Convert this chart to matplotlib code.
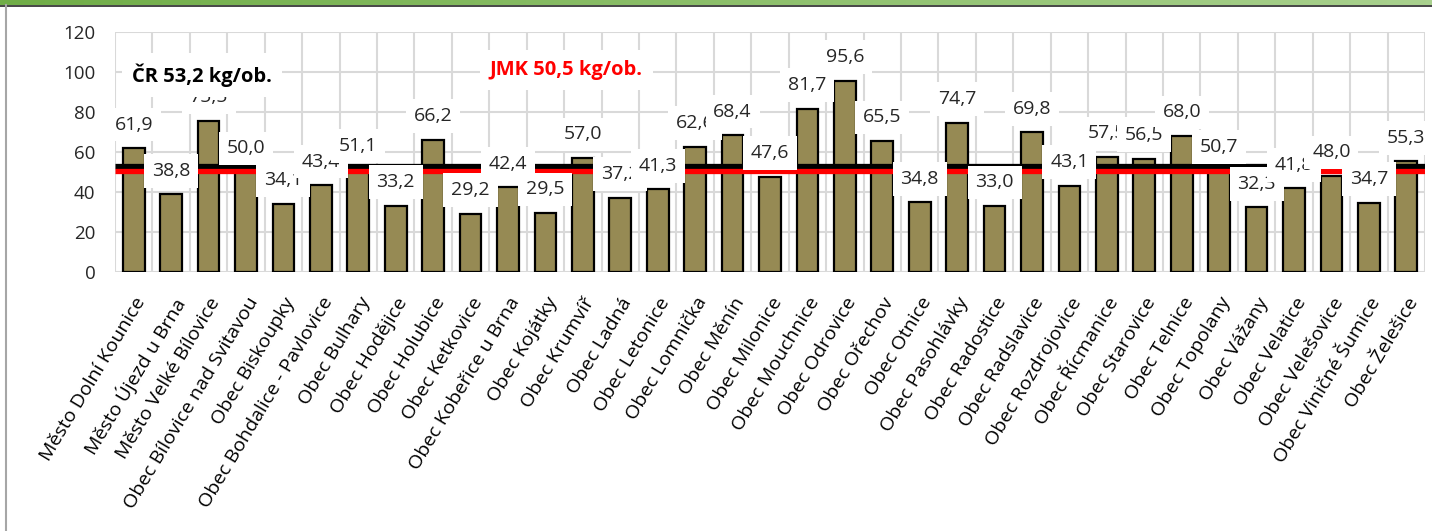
import numpy as np
import matplotlib.pyplot as plt
from matplotlib.colors import LinearSegmentedColormap

plt.rcParams['font.family'] = ['Open Sans', 'DejaVu Sans']

obce = ['Město Dolní Kounice', 'Město Újezd u Brna', 'Město Velké Bílovice',
        'Obec Bílovice nad Svitavou', 'Obec Biskoupky', 'Obec Bohdalice - Pavlovice',
        'Obec Bulhary', 'Obec Hodějice', 'Obec Holubice', 'Obec Ketkovice',
        'Obec Kobeřice u Brna', 'Obec Kojátky', 'Obec Krumvíř', 'Obec Ladná',
        'Obec Letonice', 'Obec Lomnička', 'Obec Měnín', 'Obec Milonice',
        'Obec Mouchnice', 'Obec Odrovice', 'Obec Ořechov', 'Obec Otnice',
        'Obec Pasohlávky', 'Obec Radostice', 'Obec Radslavice', 'Obec Rozdrojovice',
        'Obec Řícmanice', 'Obec Starovice', 'Obec Telnice', 'Obec Topolany',
        'Obec Vážany', 'Obec Velatice', 'Obec Velešovice', 'Obec Viničné Šumice',
        'Obec Želešice']
kg_na_obyv = [61.9, 38.8, 75.5, 50.0, 34.1, 43.4, 51.1, 33.2, 66.2, 29.2,
              42.4, 29.5, 57.0, 37.2, 41.3, 62.6, 68.4, 47.6, 81.7, 95.6,
              65.5, 34.8, 74.7, 33.0, 69.8, 43.1, 57.5, 56.5, 68.0, 50.7,
              32.3, 41.8, 48.0, 34.7, 55.3]
prumer_cr = 53.2
prumer_jmk = 50.5

W, H = 1432, 531
fig = plt.figure(figsize=(W / 100, H / 100), dpi=100)
ax = fig.add_axes([115 / W, 1 - 272 / H, 1310 / W, 240 / H])

x = np.arange(len(obce))
ax.bar(x, kg_na_obyv, width=0.58, color='#968A54', edgecolor='black',
       linewidth=1.6, zorder=3)

ax.plot([-0.5, len(obce) - 0.5], [prumer_cr] * 2, color='black', lw=3.8,
        zorder=4, solid_capstyle='butt')
ax.plot([-0.5, len(obce) - 0.5], [prumer_jmk] * 2, color='red', lw=3.8,
        zorder=4, solid_capstyle='butt')

for xi, v in zip(x, kg_na_obyv):
    ax.annotate(f'{v:.1f}'.replace('.', ','), (xi, v), xytext=(0, 17),
                textcoords='offset points', ha='center', va='center',
                fontsize=14, color='#262626', zorder=6,
                bbox=dict(boxstyle='square,pad=0.4', fc='white', ec='none'))

ax.text(0.013, 0.82, 'ČR 53,2 kg/ob.', transform=ax.transAxes, ha='left',
        va='center', fontsize=14.5, fontweight='bold', color='black', zorder=7,
        bbox=dict(boxstyle='square,pad=0.5', fc='white', ec='none'))
ax.text(0.286, 0.842, 'JMK 50,5 kg/ob.', transform=ax.transAxes, ha='left',
        va='center', fontsize=14.5, fontweight='bold', color='red', zorder=7,
        bbox=dict(boxstyle='square,pad=0.5', fc='white', ec='none'))

ax.set_xlim(-0.5, len(obce) - 0.5)
ax.set_ylim(0, 120)
ax.set_yticks(range(0, 121, 20))
ax.set_xticks(x)
ax.set_xticklabels(obce, rotation=59, ha='right', rotation_mode='anchor',
                   fontsize=14, color='black')
ax.set_xticks(np.arange(-0.5, len(obce), 1), minor=True)
ax.tick_params(axis='y', length=0, pad=14, labelsize=13.5, labelcolor='#262626')
ax.tick_params(axis='x', which='both', length=0, pad=16)
ax.grid(axis='y', color='#D9D9D9', lw=1.5, zorder=0)
ax.grid(axis='x', which='minor', color='#D9D9D9', lw=1.5, zorder=0)
ax.grid(axis='x', which='major', visible=False)
for s in ax.spines.values():
    s.set_visible(False)

# green strip and frame of the original sheet
strip = fig.add_axes([0, 1 - 5 / H, 1, 5 / H])
cmap = LinearSegmentedColormap.from_list('g', ['#70AD47', '#A9D18E'])
strip.imshow(np.linspace(0, 1, 256)[None, :], aspect='auto', cmap=cmap)
strip.axis('off')
fig.add_artist(plt.Line2D([0, 1], [1 - 5.5 / H] * 2, color='#262626', lw=1.2))
fig.add_artist(plt.Line2D([6 / W] * 2, [0, 1 - 5 / H], color='#A6A6A6', lw=1.5))

fig.savefig('out.png', dpi=100)
